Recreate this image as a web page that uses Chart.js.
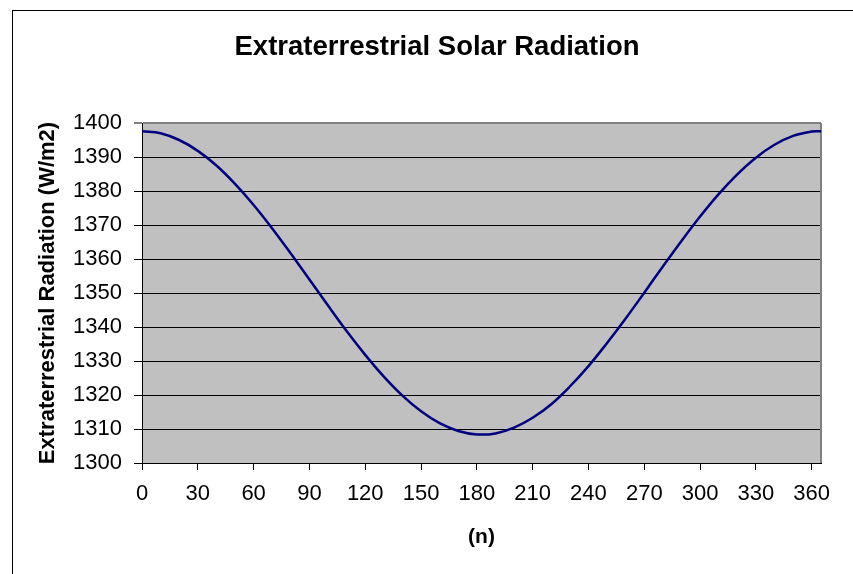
<!DOCTYPE html>
<html>
<head>
<meta charset="utf-8">
<script src="https://cdn.jsdelivr.net/npm/chart.js@4"></script>
<style>
  html, body { margin: 0; padding: 0; background: #ffffff; }
  canvas { display: block; }
</style>
</head>
<body>
<canvas id="c" width="853" height="574"></canvas>
<script>
// ---- data ----
const chartTitle = 'Extraterrestrial Solar Radiation';
const xTitle = '(n)';
const yTitle = 'Extraterrestrial Radiation (W/m2)';

const days = [0, 10, 20, 30, 40, 50, 60, 70, 80, 90, 100, 110, 120, 130, 140, 150, 160, 170, 180,
  190, 200, 210, 220, 230, 240, 250, 260, 270, 280, 290, 300, 310, 320, 330, 340, 350, 360, 365];
const radiation = [1397.6, 1397.0, 1395.0, 1391.8, 1387.5, 1382.1, 1375.9, 1369.0, 1361.6, 1354.0,
  1346.3, 1338.8, 1331.8, 1325.4, 1319.8, 1315.2, 1311.7, 1309.4, 1308.4, 1308.7, 1310.4, 1313.3,
  1317.3, 1322.5, 1328.5, 1335.3, 1342.5, 1350.1, 1357.8, 1365.3, 1372.5, 1379.1, 1384.9, 1389.8,
  1393.6, 1396.2, 1397.5, 1397.6];

const xTicks = [0, 30, 60, 90, 120, 150, 180, 210, 240, 270, 300, 330, 360];
const yTicks = [1300, 1310, 1320, 1330, 1340, 1350, 1360, 1370, 1380, 1390, 1400];

// ---- chart ----
const FONT = "'Liberation Sans', Arial, sans-serif";

const decor = {
  id: 'decor',
  beforeDraw(chart) {
    const { ctx, chartArea: a } = chart;
    ctx.save();
    ctx.fillStyle = '#ffffff';
    ctx.fillRect(0, 0, chart.width, chart.height);
    ctx.fillStyle = '#c0c0c0';
    ctx.fillRect(a.left, a.top, a.right - a.left, a.bottom - a.top);
    ctx.strokeStyle = '#000000';
    ctx.lineWidth = 1;
    ctx.strokeRect(12.5, 10.5, chart.width + 20, chart.height + 20);
    ctx.restore();
  },
  beforeDatasetsDraw(chart) {
    const { ctx, chartArea: a } = chart;
    ctx.save();
    ctx.strokeStyle = '#808080';
    ctx.lineWidth = 2;
    ctx.beginPath();
    ctx.moveTo(a.right, a.top);
    ctx.lineTo(a.right, a.bottom);
    ctx.stroke();
    ctx.restore();
  },
  afterDraw(chart) {
    const { ctx } = chart;
    ctx.save();
    ctx.fillStyle = '#000000';
    ctx.font = 'bold 27.5px ' + FONT;
    ctx.textAlign = 'center';
    ctx.textBaseline = 'middle';
    ctx.fillText(chartTitle, 437, 47);
    ctx.restore();
  }
};

new Chart(document.getElementById('c'), {
  type: 'line',
  data: {
    datasets: [{
      data: days.map((d, i) => ({ x: d, y: radiation[i] })),
      borderColor: '#000080',
      borderWidth: 2.5,
      pointRadius: 0,
      tension: 0.4,
      fill: false
    }]
  },
  options: {
    responsive: false,
    animation: false,
    devicePixelRatio: 1,
    layout: { padding: { top: 123, right: 32, left: 0, bottom: 0 } },
    plugins: { legend: { display: false }, title: { display: false }, tooltip: { enabled: false } },
    scales: {
      x: {
        type: 'linear',
        min: 0,
        max: 365,
        afterBuildTicks(scale) { scale.ticks = xTicks.map(v => ({ value: v })); },
        afterFit(scale) { scale.height = 111; },
        ticks: { font: { family: FONT, size: 22 }, color: '#000000', padding: 11, maxRotation: 0, autoSkip: false,
          callback: (v) => String(v) },
        grid: { drawOnChartArea: false, drawTicks: true, tickLength: 7, tickColor: '#000000' },
        border: { display: true, color: '#000000', width: 1 },
        title: { display: true, text: xTitle, color: '#000000', font: { family: FONT, size: 21, weight: 'bold' }, padding: { top: 0, bottom: 24 } }
      },
      y: {
        min: 1300,
        max: 1400,
        afterBuildTicks(scale) { scale.ticks = yTicks.map(v => ({ value: v })); },
        afterFit(scale) { scale.width = 142; },
        ticks: { font: { family: FONT, size: 22 }, color: '#000000', padding: 12, autoSkip: false,
          callback: (v) => String(v) },
        grid: {
          color: (c) => (c.tick && c.tick.value === 1400 ? '#808080' : '#000000'),
          lineWidth: (c) => (c.tick && c.tick.value === 1400 ? 2 : 1),
          tickLength: 8, tickColor: '#000000', tickWidth: 1
        },
        border: { display: true, color: '#000000', width: 1 },
        title: { display: true, text: yTitle, color: '#000000', font: { family: FONT, size: 22, weight: 'bold' }, padding: { top: 35, bottom: 0 } }
      }
    }
  },
  plugins: [decor]
});
</script>
</body>
</html>
